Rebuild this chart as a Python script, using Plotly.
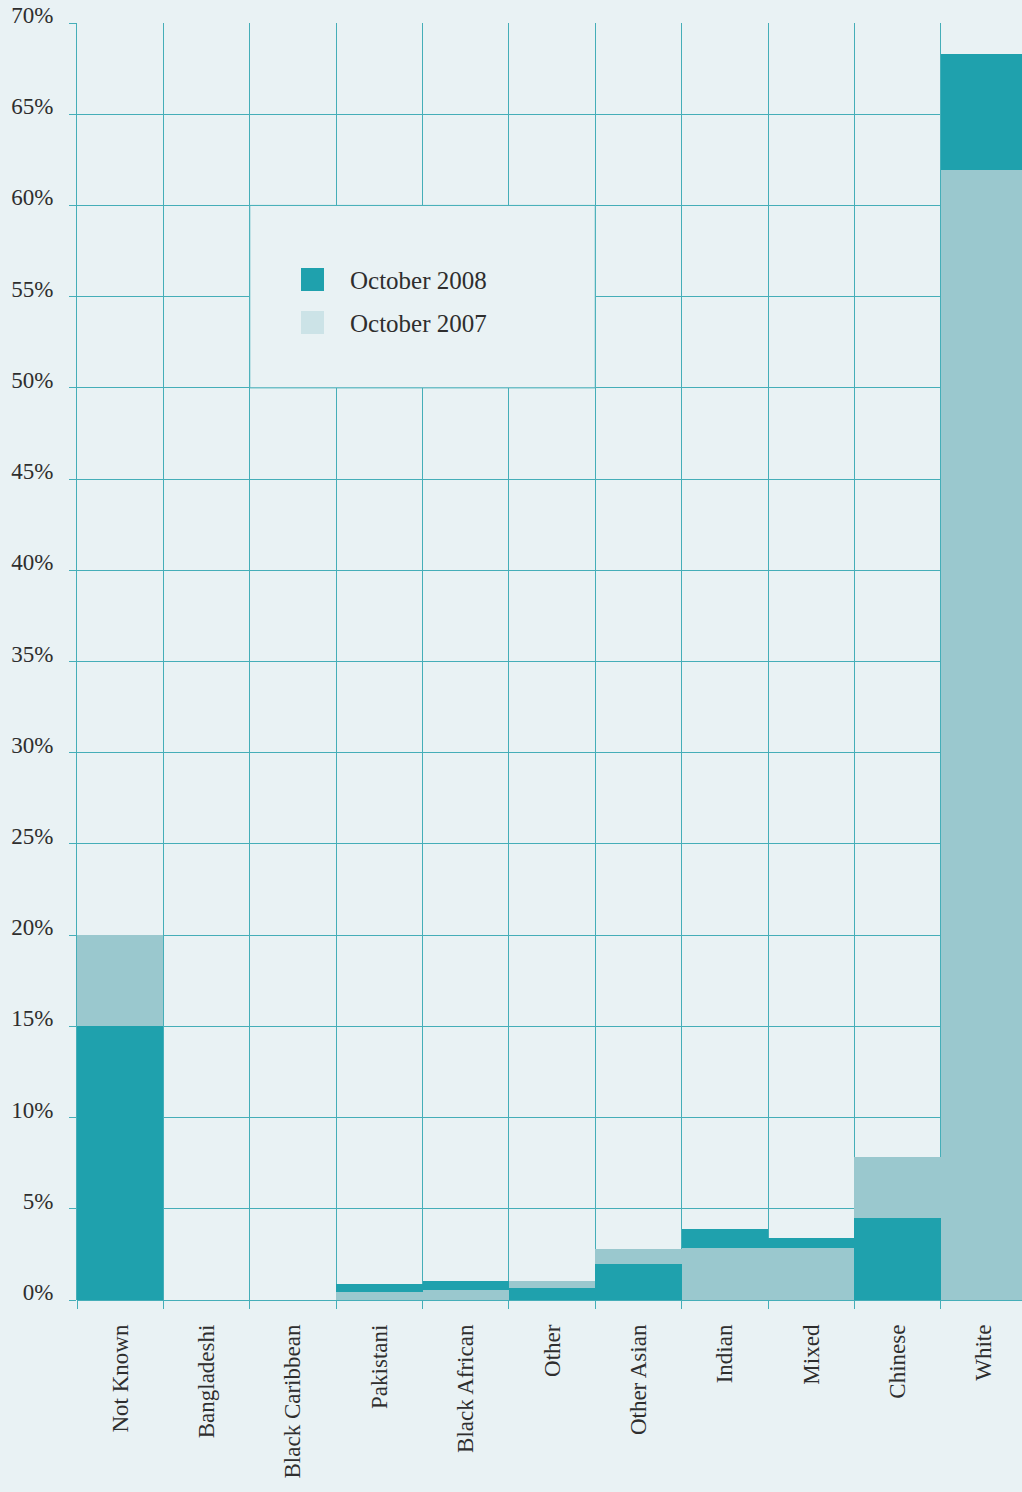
import plotly.graph_objects as go

categories = ["Not Known", "Bangladeshi", "Black Caribbean", "Pakistani", "Black African",
              "Other", "Other Asian", "Indian", "Mixed", "Chinese", "White"]
oct_2008 = [15.0, 0.0, 0.0, 0.9, 1.05, 0.65, 1.95, 3.9, 3.4, 4.5, 68.3]
oct_2007 = [20.0, 0.0, 0.0, 0.45, 0.55, 1.05, 2.8, 2.85, 2.85, 7.85, 61.95]
y_ticks = [0, 5, 10, 15, 20, 25, 30, 35, 40, 45, 50, 55, 60, 65, 70]
y_tick_text = [f"{v}%" for v in y_ticks]
series_names = ["October 2008", "October 2007"]

BG = "#e9f2f4"
DARK = "#1fa1ad"
LIGHT = "#9ac8ce"
LEGEND_LIGHT = "#cce3e7"
GRID = "#45aeb8"
TEXT = "#2e2e2e"
FONT = "Liberation Serif, Times New Roman, serif"

W, H = 1022, 1492
L, T, B = 77, 23, 192
plot_w = W - L
plot_h = H - T - B

# larger value goes behind, smaller value in front
back_vals, back_cols, front_vals, front_cols = [], [], [], []
for a, b in zip(oct_2008, oct_2007):
    if a >= b:
        back_vals.append(a); back_cols.append(DARK)
        front_vals.append(b); front_cols.append(LIGHT)
    else:
        back_vals.append(b); back_cols.append(LIGHT)
        front_vals.append(a); front_cols.append(DARK)

fig = go.Figure()
fig.add_trace(go.Bar(x=categories, y=back_vals, marker=dict(color=back_cols, line=dict(width=0)),
                     width=1, showlegend=False, hoverinfo="x+y"))
fig.add_trace(go.Bar(x=categories, y=front_vals, marker=dict(color=front_cols, line=dict(width=0)),
                     width=1, showlegend=False, hoverinfo="x+y"))

def px_x(p):
    return (p - L) / plot_w

def px_y(p):
    return (H - B - p) / plot_h

shapes = [
    dict(type="rect", xref="x", yref="y", x0=1.5, x1=5.5, y0=50, y1=60,
         fillcolor=BG, line=dict(color=GRID, width=1), layer="above"),
]
annotations = []
legend_rows = [(268, DARK, series_names[0]), (311, LEGEND_LIGHT, series_names[1])]
for top, col, name in legend_rows:
    shapes.append(dict(type="rect", xref="paper", yref="paper",
                       x0=px_x(301), x1=px_x(324), y0=px_y(top + 23), y1=px_y(top),
                       fillcolor=col, line=dict(width=0), layer="above"))
    annotations.append(dict(xref="paper", yref="paper", x=px_x(348), y=px_y(top + 12),
                            text=name, showarrow=False, xanchor="left", yanchor="middle",
                            font=dict(family=FONT, size=25, color=TEXT)))

fig.update_layout(
    width=W, height=H,
    margin=dict(l=L, r=0, t=T, b=B, pad=0),
    paper_bgcolor=BG, plot_bgcolor=BG,
    barmode="overlay", bargap=0,
    showlegend=False,
    font=dict(family=FONT, size=22, color=TEXT),
    shapes=shapes, annotations=annotations,
    xaxis=dict(
        type="category", range=[-0.5, 10.44],
        tickson="boundaries", ticks="outside", ticklen=8, tickcolor=GRID, tickwidth=1,
        showgrid=True, gridcolor=GRID, gridwidth=1,
        tickangle=-90, ticklabelstandoff=19,
        tickfont=dict(family=FONT, size=23, color=TEXT),
        showline=False, zeroline=False, fixedrange=True,
    ),
    yaxis=dict(
        range=[0, 70], tickvals=y_ticks, ticktext=y_tick_text,
        ticks="outside", ticklen=7, tickcolor=GRID, tickwidth=1,
        showgrid=True, gridcolor=GRID, gridwidth=1,
        zeroline=True, zerolinecolor=GRID, zerolinewidth=1,
        showline=True, linecolor=GRID, linewidth=1,
        ticklabelshift=-8, ticklabelstandoff=11,
        tickfont=dict(family=FONT, size=23, color=TEXT),
        fixedrange=True,
    ),
)

fig.write_html(
    "out.html",
    config={"displayModeBar": False},
    post_script="document.body.style.margin='0';document.body.style.background='%s';" % BG,
)
